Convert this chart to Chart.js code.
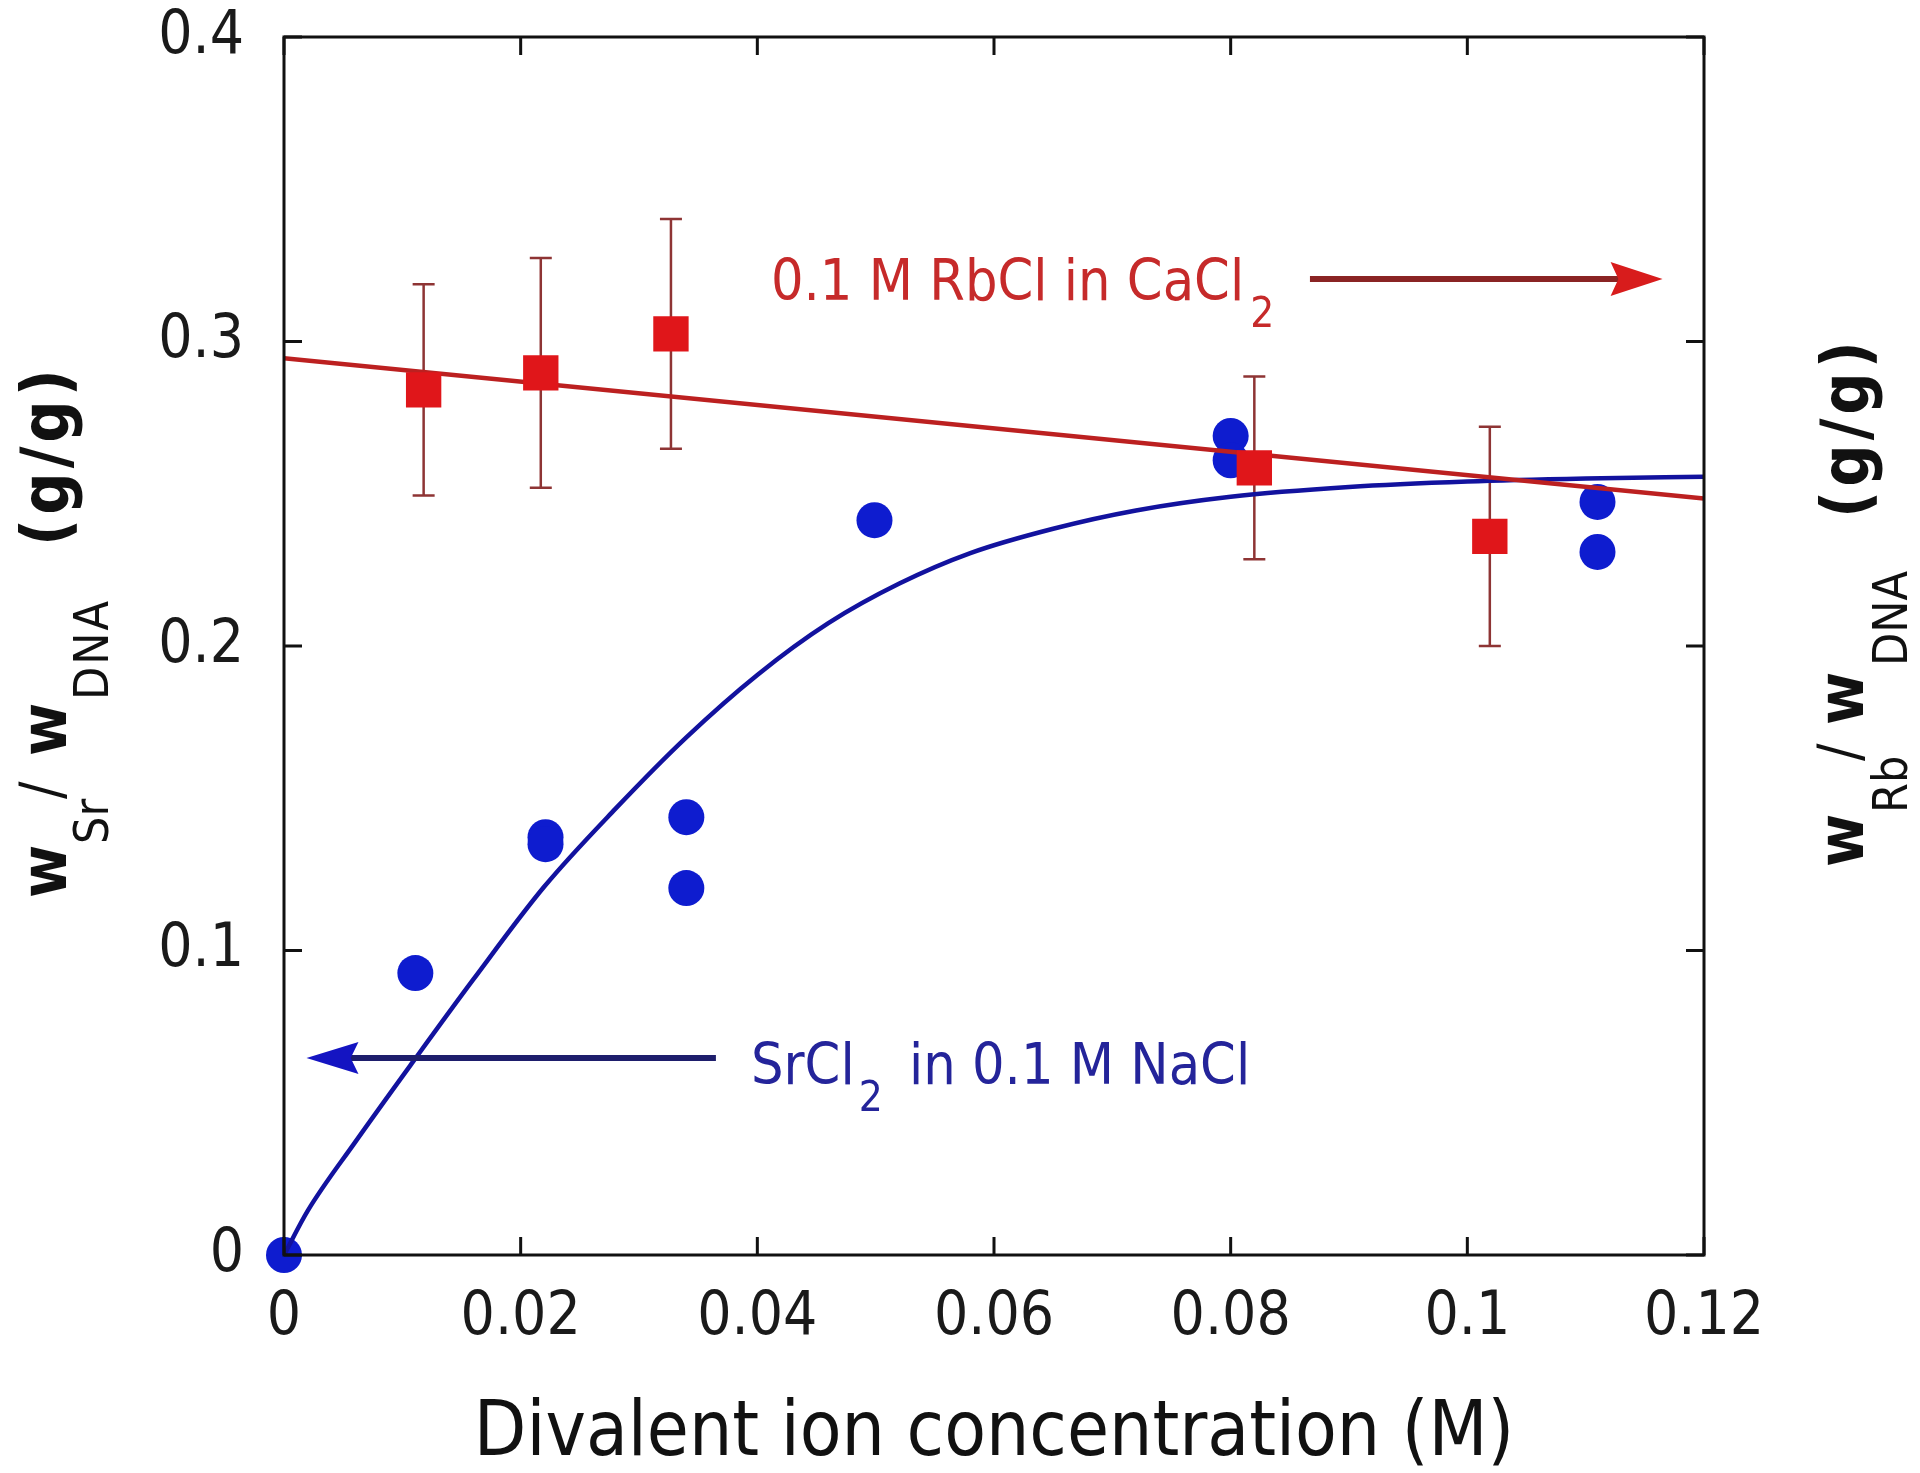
<!DOCTYPE html>
<html>
<head>
<meta charset="utf-8">
<title>Sr / Rb uptake vs divalent ion concentration</title>
<script src="https://cdn.jsdelivr.net/npm/chart.js@4.4.1/dist/chart.umd.min.js"></script>
<style>
  html, body { margin: 0; padding: 0; background: #fff; }
  #wrap { width: 1920px; height: 1473px; position: relative; }
</style>
</head>
<body>
<div id="wrap"><canvas id="myChart"></canvas></div>
<script>
// SrCl2 in 0.1 M NaCl (left axis)
var srX = [0, 0.0111, 0.0221, 0.0221, 0.034, 0.034, 0.0499, 0.080, 0.080, 0.111, 0.111];
var srY = [0, 0.0926, 0.1372, 0.1349, 0.1438, 0.1205, 0.2413, 0.269, 0.261, 0.2473, 0.2309];

// fitted curve through the Sr points
var srFitX = [0, 0.002, 0.006, 0.011, 0.016, 0.022, 0.028, 0.034, 0.040, 0.046, 0.052, 0.058, 0.065, 0.072, 0.080, 0.090, 0.100, 0.110, 0.120];
var srFitY = [0, 0.0145, 0.037, 0.064, 0.0905, 0.121, 0.1465, 0.170, 0.1905, 0.2075, 0.2205, 0.2305, 0.2385, 0.2445, 0.2490, 0.2522, 0.2540, 0.2550, 0.2556];

// 0.1 M RbCl in CaCl2 (right axis)
var rbX = [0.0118, 0.0217, 0.0327, 0.082, 0.1019];
var rbY = [0.2841, 0.2897, 0.3025, 0.2585, 0.236];
var rbErr = [0.0347, 0.0377, 0.0377, 0.030, 0.036];

// straight fit line for Rb
var rbFitX = [0, 0.12];
var rbFitY = [0.2945, 0.2484];

var xTicks = [0, 0.02, 0.04, 0.06, 0.08, 0.1, 0.12];
var yTicks = [0, 0.1, 0.2, 0.3, 0.4];

var FONT = "'DejaVu Sans Condensed', 'DejaVu Sans', sans-serif";

function pts(xs, ys) {
  var out = [];
  for (var i = 0; i < xs.length; i++) out.push({ x: xs[i], y: ys[i] });
  return out;
}
function fmt(v) { return String(+v.toFixed(2)); }

function vtext(ctx, str, font, bx, sy, spacing) {
  ctx.save();
  ctx.translate(bx, sy);
  ctx.rotate(-Math.PI / 2);
  ctx.font = font;
  ctx.letterSpacing = (spacing || 0) + "px";
  ctx.textAlign = "left";
  ctx.textBaseline = "alphabetic";
  ctx.fillText(str, 0, 0);
  ctx.restore();
}

function arrow(ctx, x1, x2, y, lineCol, headCol, headLen, headHalf) {
  var dir = x2 > x1 ? 1 : -1;
  ctx.save();
  ctx.strokeStyle = lineCol;
  ctx.lineWidth = 6;
  ctx.beginPath();
  ctx.moveTo(x1, y);
  ctx.lineTo(x2 - dir * headLen * 0.6, y);
  ctx.stroke();
  ctx.fillStyle = headCol;
  ctx.beginPath();
  ctx.moveTo(x2, y);
  ctx.lineTo(x2 - dir * headLen, y - headHalf);
  ctx.lineTo(x2 - dir * headLen * 0.85, y);
  ctx.lineTo(x2 - dir * headLen, y + headHalf);
  ctx.closePath();
  ctx.fill();
  ctx.restore();
}

function fixVert(w) {
  return function (s) { s.width = w; s.paddingTop = 0; s.paddingBottom = 0; };
}

var decor = {
  id: "decor",
  beforeDatasetsDraw: function (chart) {
    var ctx = chart.ctx, xs = chart.scales.x, ys = chart.scales.y2;
    ctx.save();
    ctx.strokeStyle = "#8e3434";
    ctx.lineWidth = 2.5;
    for (var i = 0; i < rbX.length; i++) {
      var px = xs.getPixelForValue(rbX[i]);
      var top = ys.getPixelForValue(rbY[i] + rbErr[i]);
      var bot = ys.getPixelForValue(rbY[i] - rbErr[i]);
      ctx.beginPath();
      ctx.moveTo(px, top); ctx.lineTo(px, bot);
      ctx.moveTo(px - 11, top); ctx.lineTo(px + 11, top);
      ctx.moveTo(px - 11, bot); ctx.lineTo(px + 11, bot);
      ctx.stroke();
    }
    ctx.restore();
  },
  afterDraw: function (chart) {
    var ctx = chart.ctx, a = chart.chartArea;
    var xs = chart.scales.x, ys = chart.scales.y;
    ctx.save();
    // frame
    ctx.strokeStyle = "#111";
    ctx.lineWidth = 3;
    ctx.strokeRect(a.left, a.top, a.right - a.left, a.bottom - a.top);
    // inward ticks
    var tl = 18;
    ctx.beginPath();
    xTicks.forEach(function (v) {
      var px = xs.getPixelForValue(v);
      ctx.moveTo(px, a.bottom); ctx.lineTo(px, a.bottom - tl);
      ctx.moveTo(px, a.top); ctx.lineTo(px, a.top + tl);
    });
    yTicks.forEach(function (v) {
      var py = ys.getPixelForValue(v);
      ctx.moveTo(a.left, py); ctx.lineTo(a.left + tl, py);
      ctx.moveTo(a.right, py); ctx.lineTo(a.right - tl, py);
    });
    ctx.stroke();

    // x axis title
    ctx.fillStyle = "#111";
    ctx.font = "76px " + FONT;
    ctx.textAlign = "center";
    ctx.textBaseline = "alphabetic";
    ctx.fillText("Divalent ion concentration (M)", (a.left + a.right) / 2, 1455);

    // left y title: w_Sr / w_DNA (g/g)
    vtext(ctx, "w", "bold 64px " + FONT, 66, 898);
    vtext(ctx, "Sr", "48px " + FONT, 108, 844);
    vtext(ctx, "/", "58px " + FONT, 62, 799);
    vtext(ctx, "w", "bold 64px " + FONT, 66, 756);
    vtext(ctx, "DNA", "48px " + FONT, 108, 700, 2);
    vtext(ctx, "(g/g)", "bold 66px " + FONT, 68, 546, 4);

    // right y title: w_Rb / w_DNA (g/g)
    vtext(ctx, "w", "bold 64px " + FONT, 1863, 867);
    vtext(ctx, "Rb", "48px " + FONT, 1907, 813);
    vtext(ctx, "/", "58px " + FONT, 1860, 761);
    vtext(ctx, "w", "bold 64px " + FONT, 1863, 725);
    vtext(ctx, "DNA", "48px " + FONT, 1907, 666, 0);
    vtext(ctx, "(g/g)", "bold 66px " + FONT, 1868, 518, 4);

    // annotations
    var y2 = chart.scales.y2;
    var rx = xs.getPixelForValue(0.04115), ry = y2.getPixelForValue(0.3136);
    ctx.textAlign = "left";
    ctx.fillStyle = "#c62a2a";
    ctx.font = "57px " + FONT;
    var s1 = "0.1 M RbCl in CaCl";
    ctx.fillText(s1, rx, ry);
    var w1 = ctx.measureText(s1).width;
    ctx.font = "42px " + FONT;
    ctx.fillText("2", rx + w1 + 6, ry + 27);
    arrow(ctx, xs.getPixelForValue(0.0867), xs.getPixelForValue(0.1165), y2.getPixelForValue(0.3205),
      "#8a2424", "#d81c1c", 52, 17);

    var bx = xs.getPixelForValue(0.03946), by = ys.getPixelForValue(0.05616);
    ctx.fillStyle = "#24249a";
    ctx.font = "57px " + FONT;
    ctx.fillText("SrCl", bx, by);
    var w2 = ctx.measureText("SrCl").width;
    ctx.font = "42px " + FONT;
    ctx.fillText("2", bx + w2 + 4, by + 27);
    var w3 = ctx.measureText("2").width;
    ctx.font = "57px " + FONT;
    ctx.fillText(" in 0.1 M NaCl", bx + w2 + w3 + 14, by);
    arrow(ctx, xs.getPixelForValue(0.0365), xs.getPixelForValue(0.0019), ys.getPixelForValue(0.0647),
      "#1e1e6c", "#1414c2", 52, 16);
    ctx.restore();
  }
};

var ctx = document.getElementById("myChart").getContext("2d");
var chart = new Chart(ctx, {
  type: "scatter",
  data: {
    datasets: [
      {
        label: "RbCl data",
        data: pts(rbX, rbY),
        yAxisID: "y2",
        pointStyle: "rect",
        pointRadius: 25,
        backgroundColor: "#e0161a",
        borderWidth: 0,
        clip: false,
      },
      {
        label: "RbCl fit",
        data: pts(rbFitX, rbFitY),
        yAxisID: "y2",
        showLine: true,
        borderColor: "#bc2020",
        borderWidth: 4.5,
        pointRadius: 0,
      },
      {
        label: "SrCl2 fit",
        data: pts(srFitX, srFitY),
        yAxisID: "y",
        showLine: true,
        borderColor: "#12129e",
        borderWidth: 4.5,
        pointRadius: 0,
        cubicInterpolationMode: "monotone",
      },
      {
        label: "SrCl2 data",
        data: pts(srX, srY),
        yAxisID: "y",
        pointStyle: "circle",
        pointRadius: 18,
        backgroundColor: "#0e1ccf",
        borderWidth: 0,
        clip: false,
      },
    ],
  },
  options: {
    responsive: true,
    maintainAspectRatio: false,
    animation: false,
    layout: { padding: { top: 37, left: 0, right: 0, bottom: 0 } },
    plugins: { legend: { display: false }, tooltip: { enabled: false } },
    elements: { point: { hoverRadius: 0 } },
    scales: {
      x: {
        type: "linear",
        min: 0,
        max: 0.12,
        afterBuildTicks: function (s) { s.ticks = xTicks.map(function (v) { return { value: v }; }); },
        afterFit: function (s) { s.height = 218; s.paddingLeft = 0; s.paddingRight = 0; },
        grid: { display: false, drawTicks: false },
        border: { display: false },
        ticks: {
          padding: 33,
          color: "#1a1a1a",
          font: { family: FONT, size: 60, lineHeight: 1 },
          maxRotation: 0,
          callback: fmt,
        },
      },
      y: {
        type: "linear",
        position: "left",
        min: 0,
        max: 0.4,
        afterBuildTicks: function (s) { s.ticks = yTicks.map(function (v) { return { value: v }; }); },
        afterFit: fixVert(284),
        grid: { display: false, drawTicks: false },
        border: { display: false },
        ticks: {
          padding: 40,
          color: "#1a1a1a",
          font: { family: FONT, size: 60, lineHeight: 1 },
          callback: fmt,
        },
      },
      y2: {
        type: "linear",
        position: "right",
        min: 0,
        max: 0.4,
        afterFit: fixVert(216),
        grid: { display: false, drawTicks: false },
        border: { display: false },
        ticks: { display: false },
      },
    },
  },
  plugins: [decor],
});
</script>
</body>
</html>
